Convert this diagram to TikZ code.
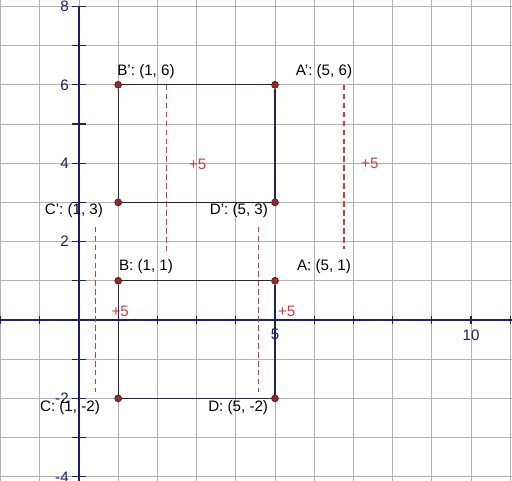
\documentclass[tikz,border=0pt]{standalone}
\usepackage{fontspec}
\setmainfont{Liberation Sans}
\usetikzlibrary{arrows.meta,positioning}
\definecolor{gridgray}{RGB}{178,178,178}
\definecolor{axisnavy}{RGB}{30,30,110}
\definecolor{edgenavy}{RGB}{35,35,75}
\definecolor{ptred}{RGB}{150,40,45}
\definecolor{shiftred}{RGB}{205,60,60}

\tikzset{
  pt/.style={circle, fill=ptred, draw=ptred!60!black, line width=0.5pt, inner sep=0pt, minimum size=5pt},
  lbl/.style={font=\fontsize{11}{13}\selectfont, inner sep=1pt},
  ticklbl/.style={font=\fontsize{11}{13}\selectfont, text=axisnavy, inner sep=1pt},
  shiftlbl/.style={font=\fontsize{11}{13}\selectfont, text=shiftred, inner sep=1pt},
  edge/.style={edgenavy, line width=1pt},
  shiftline/.style={shiftred, line width=0.8pt, dash pattern=on 4pt off 2.5pt}
}

\begin{document}
\begin{tikzpicture}[>=Stealth]
  \useasboundingbox (-2.015,-4.082) rectangle (11.046,8.163);
  \begin{scope}
    \clip (-2.015,-4.082) rectangle (11.046,8.163);
    % Grid
    \draw[gridgray, line width=0.7pt] (-3,-5) grid (12,8);
    \foreach \x in {-2,...,11} {\draw[gridgray, line width=0.7pt] (\x,8) -- (\x,8.2);}
    % Axes
    \draw[axisnavy, line width=1pt] (-2.1,0) -- (11.1,0);
    \draw[axisnavy, line width=1pt] (0,-4.1) -- (0,8);
  \end{scope}

  % tick marks
  \foreach \x in {-2,...,11} {\draw[axisnavy, line width=0.8pt] (\x,0.1) -- (\x,-0.1);}
  \foreach \y in {-4,...,8} {\draw[axisnavy, line width=0.8pt] (-0.17,\y) -- (0.17,\y);}
  \foreach \y in {-4,-2,2,4,6,8} {\node[ticklbl, anchor=east] (ty\y) at (-0.22,\y) {\y};}
  \foreach \x in {5,10} {\node[ticklbl, anchor=north] (tx\x) at (\x,-0.2) {\x};}

  % Translation markers
  \draw[shiftline] (2.24,6) -- (2.24,1.68);
  \draw[shiftline] (6.76,6) -- (6.76,1.8);
  \draw[shiftline] (0.43,2.38) -- (0.43,-1.84);
  \draw[shiftline] (4.57,2.38) -- (4.57,-1.84);
  \node[shiftlbl] (s1) at (3.03,3.97) {+5};
  \node[shiftlbl] (s2) at (7.42,4.0) {+5};
  \node[shiftlbl] (s3) at (1.05,0.22) {+5};
  \node[shiftlbl] (s4) at (5.3,0.23) {+5};

  % Original rectangle ABCD
  \node[pt] (A) at (5,1) {};
  \node[pt] (B) at (1,1) {};
  \node[pt] (C) at (1,-2) {};
  \node[pt] (D) at (5,-2) {};
  % Image A'B'C'D'
  \node[pt] (A') at (5,6) {};
  \node[pt] (B') at (1,6) {};
  \node[pt] (C') at (1,3) {};
  \node[pt] (D') at (5,3) {};

  \draw[edge] (B) -- (A) -- (D) -- (C) -- (B);
  \draw[edge] (B') -- (A') -- (D') -- (C') -- (B');

  % labels
  \node[lbl] (lA) at (6.25,1.35) {A: (5, 1)};
  \node[lbl] (lB) at (1.71,1.35) {B: (1, 1)};
  \node[lbl] (lC) at (-0.23,-2.24) {C: (1, -2)};
  \node[lbl] (lD) at (4.06,-2.24) {D: (5, -2)};
  \node[lbl] (lA') at (6.25,6.33) {A': (5, 6)};
  \node[lbl] (lB') at (1.71,6.33) {B': (1, 6)};
  \node[lbl] (lC') at (-0.13,2.78) {C': (1, 3)};
  \node[lbl] (lD') at (4.08,2.78) {D': (5, 3)};
\end{tikzpicture}
\end{document}
